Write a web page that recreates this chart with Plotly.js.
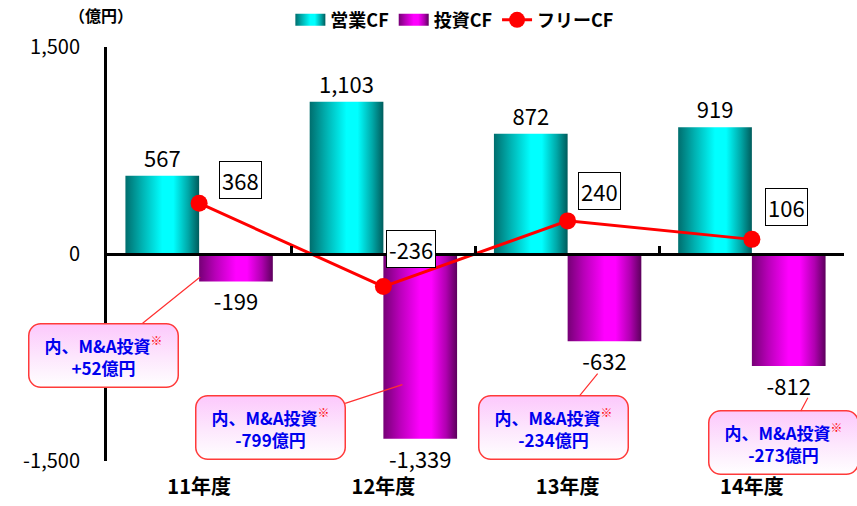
<!DOCTYPE html>
<html>
<head>
<meta charset="utf-8">
<script src="https://cdn.plot.ly/plotly-3.0.1.min.js"></script>
<style>
  html, body { margin: 0; padding: 0; background: #fff; }
  #chart { width: 857px; height: 506px; }
</style>
</head>
<body>
<div id="chart"></div>
<script>
// ---- data ----
const categories = ['11年度', '12年度', '13年度', '14年度'];
const operatingCF = [567, 1103, 872, 919];
const investingCF = [-199, -1339, -632, -812];
const freeCF = [368, -236, 240, 106];
const maInvest = ['+52', '-799', '-234', '-273'];
const seriesNames = ['営業CF', '投資CF', 'フリーCF'];
const yTickVals = [-1500, 0, 1500];
const yTickText = ['-1,500', '0', '1,500'];
const unitLabel = '（億円）';

// ---- layout helpers (styles / positions only) ----
const FONT = '"Noto Sans CJK JP", "Noto Sans", sans-serif';
const fmt = v => v.toLocaleString('en-US');
const freeShift = [[41, 23], [28, 38], [32, 30], [35, 32]];
// callout: tip y value, tip x shift(px), box offset ax/ay (px)
const calloutTipY = [-167, -947, -867, -1041];
const calloutTipDx = [1, 19, 30, 56];
const calloutAx = [-97, -132, -44, -24];
const calloutAy = [78, 43, 54, 45];

const traces = [
  {
    type: 'bar', name: seriesNames[0], x: categories, y: operatingCF,
    offset: -0.4, width: 0.4,
    marker: { color: '#00c8c8', line: { width: 0 } },
    text: operatingCF.map(fmt), textposition: 'outside', cliponaxis: false,
    constraintext: 'none',
    textfont: { family: FONT, size: 22, color: '#000' },
    hoverinfo: 'skip'
  },
  {
    type: 'bar', name: seriesNames[1], x: categories, y: investingCF,
    offset: 0, width: 0.4,
    marker: { color: '#c800c8', line: { width: 0 } },
    text: investingCF.map(fmt), textposition: 'outside', cliponaxis: false,
    constraintext: 'none',
    textfont: { family: FONT, size: 22, color: '#000' },
    hoverinfo: 'skip'
  },
  {
    type: 'scatter', mode: 'lines+markers', name: seriesNames[2],
    x: categories, y: freeCF,
    line: { color: '#ff0000', width: 3 },
    marker: { color: '#ff0000', size: 17 },
    cliponaxis: false, hoverinfo: 'skip'
  }
];

const annotations = [];
freeCF.forEach((v, i) => {
  annotations.push({
    x: categories[i], y: v, xref: 'x', yref: 'y',
    text: fmt(v), showarrow: false,
    xshift: freeShift[i][0], yshift: freeShift[i][1],
    font: { family: FONT, size: 22, color: '#000' },
    bgcolor: '#ffffff', bordercolor: '#000000', borderwidth: 1, borderpad: 2
  });
});
maInvest.forEach((m, i) => {
  annotations.push({
    x: categories[i], y: calloutTipY[i], xref: 'x', yref: 'y',
    xshift: calloutTipDx[i],
    text: '内、M&A投資<span style="color:#ff0000"><sup>※</sup></span><br>' + m + '億円',
    showarrow: true, arrowhead: 0, arrowwidth: 1.2, arrowcolor: '#ff3030',
    ax: calloutAx[i], ay: calloutAy[i],
    font: { family: FONT, size: 17, color: '#0000ee', weight: 'bold' },
    bgcolor: '#fde0fd', bordercolor: '#ff3a3a', borderwidth: 1.5,
    borderpad: 7, width: 134, height: 48, align: 'center'
  });
});
annotations.push({
  xref: 'paper', yref: 'paper', x: -0.008, y: 1.077, xanchor: 'center', yanchor: 'middle',
  text: unitLabel, showarrow: false,
  font: { family: FONT, size: 16, color: '#000', weight: 'bold' }
});

const layout = {
  width: 857, height: 506,
  margin: { l: 107, r: 13, t: 47, b: 45, autoexpand: false },
  paper_bgcolor: '#fff', plot_bgcolor: 'rgba(0,0,0,0)',
  font: { family: FONT, color: '#000' },
  barmode: 'overlay',
  showlegend: true,
  legend: {
    orientation: 'h', x: 0.472, xanchor: 'center', y: 1.065, yanchor: 'middle',
    font: { family: FONT, size: 18, color: '#000', weight: 'bold' },
    itemclick: false, itemdoubleclick: false, traceorder: 'normal'
  },
  xaxis: {
    type: 'category', range: [-0.5, 3.5],
    anchor: 'free', position: 0.5,
    showline: true, linecolor: '#000', linewidth: 3,
    ticks: 'inside', tickson: 'boundaries', ticklen: 7, tickwidth: 3, tickcolor: '#000',
    showgrid: false, zeroline: false,
    tickfont: { family: FONT, size: 20, color: '#000', weight: 'bold' },
    ticklabelstandoff: 214
  },
  yaxis: {
    range: [-1500, 1500],
    tickmode: 'array', tickvals: yTickVals, ticktext: yTickText,
    showline: true, linecolor: '#000', linewidth: 3,
    ticks: 'inside', ticklen: 7, tickwidth: 3, tickcolor: '#000',
    showgrid: false, zeroline: false,
    tickfont: { family: FONT, size: 20, color: '#000' },
    ticklabelstandoff: 20
  },
  annotations: annotations
};

function makeGrad(defs, id, stops, vertical) {
  const NS = 'http://www.w3.org/2000/svg';
  const g = document.createElementNS(NS, 'linearGradient');
  g.setAttribute('id', id);
  g.setAttribute('x1', '0'); g.setAttribute('y1', '0');
  g.setAttribute('x2', vertical ? '0' : '1'); g.setAttribute('y2', vertical ? '1' : '0');
  stops.forEach(s => {
    const st = document.createElementNS(NS, 'stop');
    st.setAttribute('offset', s[0]);
    st.setAttribute('stop-color', s[1]);
    g.appendChild(st);
  });
  defs.appendChild(g);
}

Plotly.newPlot('chart', traces, layout, { staticPlot: true }).then(gd => {
  const NS = 'http://www.w3.org/2000/svg';
  const svg = gd.querySelector('svg.main-svg');
  let defs = svg.querySelector('defs');
  if (!defs) { defs = document.createElementNS(NS, 'defs'); svg.insertBefore(defs, svg.firstChild); }
  makeGrad(defs, 'gTeal', [[0, '#006e6e'], [0.22, '#00b0b0'], [0.5, '#00ffff'], [0.65, '#00ffff'], [0.85, '#00a8a8'], [1, '#005c5c']]);
  makeGrad(defs, 'gMag', [[0, '#760076'], [0.22, '#b800b8'], [0.5, '#ff00ff'], [0.65, '#ff00ff'], [0.85, '#b000b0'], [1, '#5c005c']]);
  makeGrad(defs, 'gPink', [[0, '#fcc8fc'], [0.55, '#fde8fd'], [1, '#ffffff']], true);
  const grads = ['url(#gTeal)', 'url(#gMag)'];
  const barTraces = gd.querySelectorAll('.barlayer .trace');
  barTraces.forEach((t, i) => {
    t.querySelectorAll('path').forEach(p => { p.style.fill = grads[i]; });
  });
  const legItems = gd.querySelectorAll('.legend .traces');
  legItems.forEach((it, i) => {
    if (i < 2) {
      it.querySelectorAll('.legendpoints path').forEach(p => {
        p.setAttribute('d', 'M15,6H-15V-6H15Z');
        p.style.fill = grads[i];
        p.style.stroke = 'none';
      });
    }
  });
  gd.querySelectorAll('.annotation').forEach(a => {
    const idx = +a.getAttribute('data-index');
    if (idx >= 4 && idx < 8) {
      const r = a.querySelector('rect.bg');
      if (r) { r.setAttribute('rx', 12); r.setAttribute('ry', 12); r.style.fill = 'url(#gPink)'; }
    }
  });
});
</script>
</body>
</html>
